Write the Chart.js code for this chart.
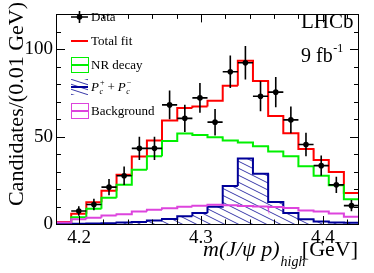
<!DOCTYPE html>
<html>
<head>
<meta charset="utf-8">
<script src="https://cdn.jsdelivr.net/npm/chart.js@4/dist/chart.umd.min.js"></script>
<style>
html,body{margin:0;padding:0;background:#fff;}
canvas{display:block;}
</style>
</head>
<body>
<canvas id="c" width="374" height="273"></canvas>
<script>
// ---- data ----
const binCenters = [4.1873, 4.1998, 4.2122, 4.2246, 4.2370, 4.2495, 4.2619, 4.2743, 4.2868, 4.2992,
                    4.3116, 4.3241, 4.3365, 4.3489, 4.3614, 4.3738, 4.3862, 4.3987, 4.4111, 4.4235];
const binWidth = 0.01243;
const dataCounts = [null, 7.4, 11.2, 21.1, 27.6, 43.3, 43.3, 68.2, 60.5, 72.2,
                    58.3, 87.2, 92.3, 73.1, 75.5, 59.6, 45.5, 33.4, 22.4, 10.5];
const dataErrors = [0, 2.7, 3.3, 4.6, 5.3, 6.6, 6.6, 8.3, 7.8, 8.5,
                    7.6, 9.3, 9.6, 8.6, 8.7, 7.7, 6.7, 5.8, 4.7, 3.2];
const totalFit = [1.2, 5.8, 12.5, 19.1, 28.2, 38.6, 47.8, 59.2, 66.4, 67.3,
                  70.6, 79.1, 93.5, 81.8, 61.9, 52.0, 43.0, 36.6, 29.8, 17.7];
const nrDecay = [0.3, 3.8, 8.7, 15.0, 22.5, 31.0, 38.8, 47.5, 51.8, 50.9,
                 49.6, 47.8, 46.6, 44.5, 41.5, 38.8, 33.0, 27.6, 22.2, 14.1];
const pcSignal = [0.1, 0.2, 0.3, 0.5, 0.8, 1.2, 2.0, 2.9, 4.5, 6.3,
                  9.9, 21.8, 37.5, 28.7, 12.6, 6.3, 2.7, 1.4, 0.9, 0.7];
const background = [0.8, 2.7, 3.6, 4.8, 5.6, 7.2, 8.1, 9.0, 9.9, 10.5,
                    11.0, 10.7, 10.3, 10.0, 9.8, 9.2, 7.7, 7.2, 6.0, 4.1];
const xMajorTicks = [4.2, 4.3, 4.4];
const xMinorTicks = [4.2, 4.22, 4.24, 4.26, 4.28, 4.3, 4.32, 4.34, 4.36, 4.38, 4.4, 4.42];
const yMajorTicks = [0, 50, 100];
const yMinorTicks = [0, 10, 20, 30, 40, 50, 60, 70, 80, 90, 100, 110, 120];
const legendLabels = ['Data', 'Total fit', 'NR decay', 'Pc', 'Background'];

// ---- helpers ----
const SERIF = '"Liberation Serif", "DejaVu Serif", serif';
const RED = '#ff0000', GREEN = '#00f000', BLUE = '#000099', HATCH = '#3a3aaa', MAG = '#dd44dd';

function steps(vals) {
  const pts = [];
  vals.forEach((v, i) => {
    pts.push({x: binCenters[i] - binWidth / 2, y: v});
    pts.push({x: binCenters[i] + binWidth / 2, y: v});
  });
  return pts;
}
function hatchPattern() {
  const c = document.createElement('canvas');
  c.width = 14; c.height = 7;
  const g = c.getContext('2d');
  g.strokeStyle = HATCH; g.lineWidth = 1;
  g.beginPath();
  g.moveTo(-14, -7); g.lineTo(28, 14);
  g.moveTo(-14, 0); g.lineTo(14, 14);
  g.moveTo(0, -7); g.lineTo(28, 7);
  g.stroke();
  return g.createPattern(c, 'repeat');
}
const pattern = hatchPattern();

const framePlugin = {
  id: 'frame',
  afterDatasetsDraw(chart) {
    const ctx = chart.ctx;
    const xs = chart.scales.x, ys = chart.scales.y;
    ctx.save();
    ctx.strokeStyle = '#000'; ctx.lineWidth = 1.6;
    dataCounts.forEach((v, i) => {
      if (v === null) return;
      const px = xs.getPixelForValue(binCenters[i]);
      const py = ys.getPixelForValue(v);
      const x0 = xs.getPixelForValue(binCenters[i] - binWidth / 2);
      const x1 = xs.getPixelForValue(binCenters[i] + binWidth / 2);
      const y0 = ys.getPixelForValue(v - dataErrors[i]);
      const y1 = ys.getPixelForValue(v + dataErrors[i]);
      ctx.beginPath();
      ctx.moveTo(x0, py); ctx.lineTo(x1, py);
      ctx.moveTo(px, y0); ctx.lineTo(px, y1);
      ctx.stroke();
    });
    ctx.restore();
  },
  afterDraw(chart) {
    const ctx = chart.ctx, a = chart.chartArea;
    const xs = chart.scales.x, ys = chart.scales.y;
    ctx.save();
    ctx.strokeStyle = '#000'; ctx.lineWidth = 1;
    ctx.strokeRect(Math.round(a.left) + 0.5, Math.round(a.top) + 0.5,
                   Math.round(a.right - a.left) - 1, Math.round(a.bottom - a.top));
    ctx.beginPath();
    xMinorTicks.forEach(t => {
      const px = Math.round(xs.getPixelForValue(t)) + 0.5;
      const len = xMajorTicks.some(m => Math.abs(m - t) < 1e-6) ? 8 : 4.5;
      ctx.moveTo(px, a.bottom); ctx.lineTo(px, a.bottom - len);
      ctx.moveTo(px, a.top); ctx.lineTo(px, a.top + len);
    });
    yMinorTicks.forEach(t => {
      const py = Math.round(ys.getPixelForValue(t)) + 0.5;
      const len = yMajorTicks.includes(t) ? 9 : 5;
      ctx.moveTo(a.left, py); ctx.lineTo(a.left + len, py);
      ctx.moveTo(a.right, py); ctx.lineTo(a.right - len, py);
    });
    ctx.stroke();

    ctx.fillStyle = '#000';
    ctx.save();
    ctx.translate(23, 2);
    ctx.rotate(-Math.PI / 2);
    ctx.font = '22px ' + SERIF;
    ctx.textAlign = 'right'; ctx.textBaseline = 'alphabetic';
    ctx.fillText('Candidates/(0.01 GeV)', 0, 0);
    ctx.restore();

    ctx.textBaseline = 'alphabetic'; ctx.textAlign = 'left';
    let x = 203;
    ctx.font = 'italic 22px ' + SERIF;
    const main = 'm(J/\u03C8 p)';
    ctx.fillText(main, x, 256);
    x += ctx.measureText(main).width + 1;
    ctx.font = 'italic 14px ' + SERIF;
    ctx.fillText('high', x, 266);
    ctx.font = '22px ' + SERIF;
    ctx.textAlign = 'right';
    ctx.fillText('[GeV]', 358, 256);

    ctx.textAlign = 'left';
    ctx.font = '21px ' + SERIF;
    ctx.fillText('LHCb', 301, 28);
    ctx.font = '20px ' + SERIF;
    ctx.fillText('9 fb', 301, 62);
    const w9 = ctx.measureText('9 fb').width;
    ctx.font = '12px ' + SERIF;
    ctx.fillText('-1', 301 + w9 + 0.5, 52);

    const lx0 = 71, lx1 = 88, tx = 91;
    const rows = [17, 41, 65, 87, 111];
    ctx.font = '13px ' + SERIF;
    ctx.textBaseline = 'middle';
    ctx.strokeStyle = '#000'; ctx.lineWidth = 1.6;
    ctx.beginPath();
    ctx.moveTo(lx0, rows[0]); ctx.lineTo(lx1, rows[0]);
    ctx.moveTo(79.5, rows[0] - 6); ctx.lineTo(79.5, rows[0] + 6);
    ctx.stroke();
    ctx.beginPath(); ctx.arc(79.5, rows[0], 2.8, 0, Math.PI * 2); ctx.fillStyle = '#000'; ctx.fill();
    ctx.fillText(legendLabels[0], tx, rows[0] + 1);
    ctx.strokeStyle = RED; ctx.lineWidth = 2;
    ctx.beginPath(); ctx.moveTo(lx0, rows[1]); ctx.lineTo(lx1, rows[1]); ctx.stroke();
    ctx.fillText(legendLabels[1], tx, rows[1] + 1);
    ctx.strokeStyle = GREEN; ctx.lineWidth = 1;
    ctx.strokeRect(lx0 + 0.5, rows[2] - 7.5, lx1 - lx0, 15);
    ctx.lineWidth = 2;
    ctx.beginPath(); ctx.moveTo(lx0, rows[2]); ctx.lineTo(lx1, rows[2]); ctx.stroke();
    ctx.fillText(legendLabels[2], tx, rows[2] + 1);
    ctx.save();
    ctx.beginPath(); ctx.rect(lx0, rows[3] - 8, lx1 - lx0, 16); ctx.clip();
    ctx.strokeStyle = HATCH; ctx.lineWidth = 1;
    ctx.beginPath();
    for (let k = -3; k < 6; k++) {
      ctx.moveTo(lx0 - 10, rows[3] - 8 + k * 5 - 8);
      ctx.lineTo(lx1 + 10, rows[3] - 8 + k * 5 + 4);
    }
    ctx.stroke();
    ctx.restore();
    ctx.strokeStyle = BLUE; ctx.lineWidth = 2;
    ctx.beginPath(); ctx.moveTo(lx0, rows[3]); ctx.lineTo(lx1, rows[3]); ctx.stroke();
    let px2 = tx;
    const drawPc = (sup) => {
      ctx.font = 'italic 13px ' + SERIF;
      ctx.fillText('P', px2, rows[3] + 1);
      px2 += ctx.measureText('P').width + 0.5;
      ctx.font = 'italic 8px ' + SERIF;
      ctx.fillText('c', px2, rows[3] + 5);
      ctx.fillText(sup, px2, rows[3] - 4);
      px2 += 6;
    };
    drawPc('+');
    ctx.font = '13px ' + SERIF;
    ctx.fillText('+', px2 + 2, rows[3] + 1);
    px2 += ctx.measureText('+').width + 5;
    drawPc('\u2212');
    ctx.strokeStyle = MAG; ctx.lineWidth = 1;
    ctx.strokeRect(lx0 + 0.5, rows[4] - 7.5, lx1 - lx0, 15);
    ctx.lineWidth = 2;
    ctx.beginPath(); ctx.moveTo(lx0, rows[4]); ctx.lineTo(lx1, rows[4]); ctx.stroke();
    ctx.font = '13px ' + SERIF;
    ctx.fillStyle = '#000';
    ctx.fillText(legendLabels[4], tx, rows[4] + 1);
    ctx.restore();
  }
};

const histStyle = (color, width) => ({
  type: 'line', borderColor: color, borderWidth: width, pointRadius: 0,
  tension: 0, fill: false, spanGaps: true
});

new Chart(document.getElementById('c'), {
  type: 'scatter',
  data: {
    datasets: [
      { label: 'Data', data: dataCounts.map((v, i) => ({x: binCenters[i], y: v})).filter(p => p.y !== null),
        pointRadius: 2.8, pointBackgroundColor: '#000', pointBorderColor: '#000', pointBorderWidth: 0, showLine: false },
      Object.assign({label: 'Background', data: steps(background)}, histStyle(MAG, 2)),
      Object.assign({label: 'Pc', data: steps(pcSignal)}, histStyle(BLUE, 2),
        {fill: 'origin', backgroundColor: pattern}),
      Object.assign({label: 'NR decay', data: steps(nrDecay)}, histStyle(GREEN, 2)),
      Object.assign({label: 'Total fit', data: steps(totalFit)}, histStyle(RED, 2))
    ]
  },
  options: {
    responsive: false,
    animation: false,
    devicePixelRatio: 1,
    layout: { padding: { top: 3, right: 15, left: 0, bottom: 0 } },
    plugins: { legend: { display: false }, tooltip: { enabled: false } },
    scales: {
      x: {
        type: 'linear', min: 4.1811, max: 4.4297,
        grid: { display: false, drawTicks: false },
        border: { display: false },
        afterBuildTicks: s => { s.ticks = xMajorTicks.map(v => ({value: v})); },
        afterFit: s => { s.height = 49; },
        ticks: { padding: 3, color: '#000', font: { family: SERIF, size: 19 },
                 callback: v => Number(v).toFixed(1), maxRotation: 0, autoSkip: false }
      },
      y: {
        min: 0, max: 120,
        grid: { display: false, drawTicks: false },
        border: { display: false },
        afterBuildTicks: s => { s.ticks = yMajorTicks.map(v => ({value: v})); },
        afterFit: s => { s.width = 56; },
        ticks: { padding: 3, color: '#000', font: { family: SERIF, size: 19 } }
      }
    }
  },
  plugins: [framePlugin]
});
</script>
</body>
</html>
